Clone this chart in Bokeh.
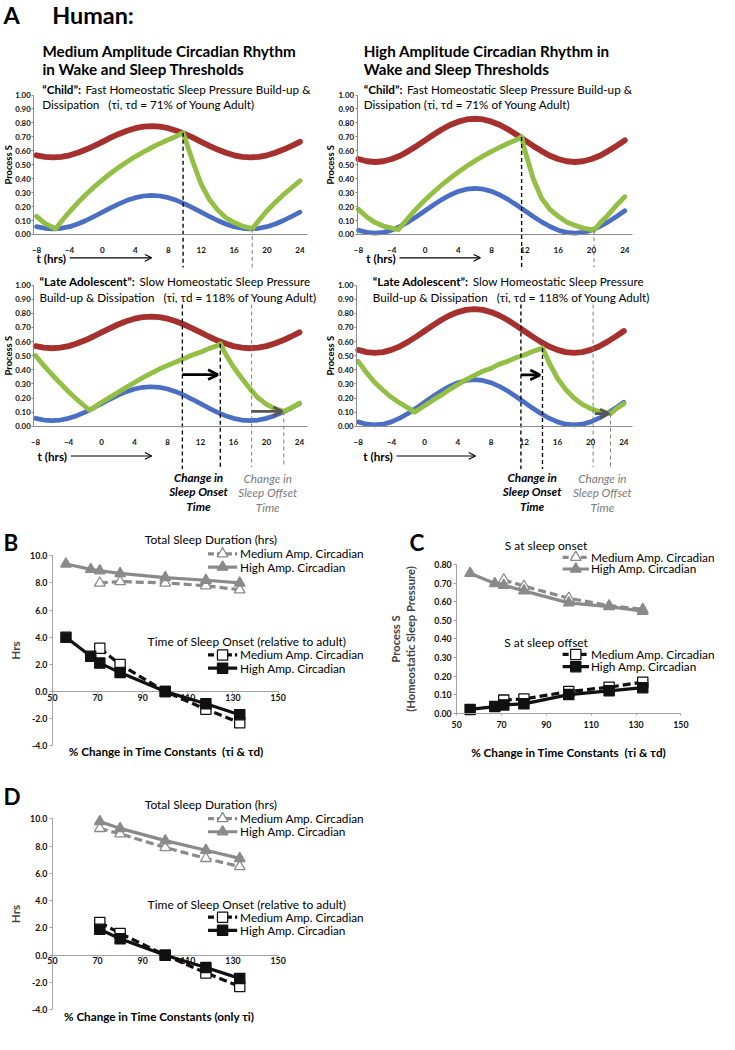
import math
from bokeh.plotting import figure
from bokeh.layouts import column, row
from bokeh.models import (Range1d, LinearAxis, FixedTicker, NumeralTickFormatter,
                          Arrow, OpenHead)
from bokeh.core.properties import value
from bokeh.embed import file_html
from bokeh.resources import INLINE

S = 0.975            # reference px -> screen px
FONT = "Lato"

# ============================ DATA : panel A ============================
T_HOURS = list(range(-8, 25))
A_XTICKS = [-8, -4, 0, 4, 8, 12, 16, 20, 24]
A_YTICKS = [0.0, 0.1, 0.2, 0.3, 0.4, 0.5, 0.6, 0.7, 0.8, 0.9, 1.0]

# wake (upper, red) and sleep (lower, blue) thresholds, read hourly
RED_MED = [0.568, 0.557, 0.553, 0.557, 0.568, 0.586, 0.609, 0.636, 0.665, 0.694, 0.721,
           0.744, 0.762, 0.773, 0.777, 0.773, 0.762, 0.744, 0.721, 0.694, 0.665, 0.636,
           0.609, 0.586, 0.568, 0.557, 0.553, 0.557, 0.568, 0.586, 0.609, 0.636, 0.665]
BLUE_MED = [0.056, 0.044, 0.040, 0.044, 0.056, 0.075, 0.100, 0.129, 0.160, 0.191, 0.220,
            0.245, 0.264, 0.276, 0.280, 0.276, 0.264, 0.245, 0.220, 0.191, 0.160, 0.129,
            0.100, 0.075, 0.056, 0.044, 0.040, 0.044, 0.056, 0.075, 0.100, 0.129, 0.160]
RED_HIGH = [0.541, 0.525, 0.520, 0.525, 0.541, 0.565, 0.598, 0.635, 0.675, 0.715, 0.753,
            0.785, 0.809, 0.825, 0.830, 0.825, 0.809, 0.785, 0.753, 0.715, 0.675, 0.635,
            0.598, 0.565, 0.541, 0.525, 0.520, 0.525, 0.541, 0.565, 0.598, 0.635, 0.675]
BLUE_HIGH = [0.031, 0.015, 0.010, 0.015, 0.031, 0.057, 0.090, 0.129, 0.170, 0.211, 0.250,
             0.283, 0.309, 0.325, 0.330, 0.325, 0.309, 0.283, 0.250, 0.211, 0.170, 0.129,
             0.090, 0.057, 0.031, 0.015, 0.010, 0.015, 0.031, 0.057, 0.090, 0.129, 0.170]

# Process S (green)
G_CHILD_MED_T = [-8, -7, -6, -5.7, -5, -4, -3, -2, -1, 0, 1, 2, 3, 4, 5, 6, 7, 8, 9, 9.8,
                 11, 12, 13, 14, 15, 16, 17, 18, 18.2, 19, 20, 21, 22, 23, 24]
G_CHILD_MED = [0.13, 0.08, 0.05, 0.04, 0.093, 0.163, 0.227, 0.287, 0.341, 0.392, 0.439,
               0.482, 0.522, 0.559, 0.593, 0.624, 0.653, 0.680, 0.705, 0.73,
               0.52, 0.36, 0.25, 0.175, 0.12, 0.085, 0.06, 0.045, 0.04,
               0.10, 0.17, 0.23, 0.285, 0.335, 0.385]
G_ADOL_MED_T = [-8, -7, -6, -5, -4, -3, -2, -1.5, -1, 0, 1, 2, 3, 4, 5, 6, 7, 8, 9, 10,
                11, 12, 13, 14, 14.4, 15, 16, 17, 18, 19, 20, 21, 22.1, 23, 24]
G_ADOL_MED = [0.50, 0.43, 0.365, 0.305, 0.245, 0.19, 0.14, 0.115, 0.13, 0.17, 0.205,
              0.24, 0.275, 0.31, 0.345, 0.375, 0.405, 0.43, 0.455, 0.48, 0.505, 0.525,
              0.55, 0.57, 0.585, 0.515, 0.42, 0.34, 0.265, 0.20, 0.155, 0.125, 0.105,
              0.13, 0.165]
G_CHILD_HIGH_T = [-8, -7, -6, -5, -4, -3.2, -3, -2, -1, 0, 1, 2, 3, 4, 5, 6, 7, 8, 9, 10,
                  11, 11.6, 12, 13, 14, 15, 16, 17, 18, 19, 20, 20.3, 21, 22, 23, 24]
G_CHILD_HIGH = [0.18, 0.125, 0.085, 0.06, 0.045, 0.035, 0.05, 0.12, 0.187, 0.247, 0.303,
                0.355, 0.403, 0.448, 0.489, 0.528, 0.563, 0.596, 0.626, 0.654, 0.68, 0.70,
                0.60, 0.40, 0.26, 0.18, 0.13, 0.09, 0.065, 0.045, 0.035, 0.03,
                0.08, 0.14, 0.21, 0.27]
G_ADOL_HIGH_T = [-8, -7, -6, -5, -4, -3, -2, -1.2, 0, 1, 2, 3, 4, 5, 6, 7, 8, 9, 10, 11,
                 12, 13, 14, 14.2, 15, 16, 17, 18, 19, 20, 21, 22, 22.4, 23, 24]
G_ADOL_HIGH = [0.46, 0.38, 0.31, 0.255, 0.205, 0.165, 0.13, 0.10, 0.145, 0.185, 0.22,
               0.26, 0.295, 0.33, 0.36, 0.39, 0.41, 0.44, 0.46, 0.485, 0.505, 0.53, 0.55,
               0.555, 0.45, 0.34, 0.26, 0.20, 0.155, 0.125, 0.105, 0.095, 0.09, 0.12, 0.16]

# sleep onset / offset times (h)
ONSET_CHILD_MED, OFFSET_CHILD_MED = 9.8, 18.2
ONSET_ADOL_MED, OFFSET_ADOL_MED = 14.4, 22.1
ONSET_CHILD_HIGH, OFFSET_CHILD_HIGH = 11.6, 20.3
ONSET_ADOL_HIGH, OFFSET_ADOL_HIGH = 14.2, 22.4

# ============================ DATA : panels B, C, D ============================
PCT_ALL = [56, 67, 71, 80, 100, 118, 133]
PCT_SUB = [71, 80, 100, 118, 133]
BD_XTICKS = [50, 70, 90, 110, 130, 150]
BD_YTICKS = [-4, -2, 0, 2, 4, 6, 8, 10]
C_YTICKS = [0.0, 0.1, 0.2, 0.3, 0.4, 0.5, 0.6, 0.7, 0.8]

B_TSD_MED = [8.0, 8.1, 8.0, 7.8, 7.5]
B_TSD_HIGH = [9.4, 9.0, 8.9, 8.7, 8.4, 8.2, 8.0]
B_ONSET_MED = [3.2, 2.0, 0.0, -1.3, -2.3]
B_ONSET_HIGH = [4.0, 2.6, 2.1, 1.4, 0.0, -0.9, -1.7]

C_SON_MED = [0.72, 0.685, 0.62, 0.58, 0.56]
C_SON_HIGH = [0.755, 0.70, 0.69, 0.66, 0.595, 0.575, 0.55]
C_SOFF_MED = [0.07, 0.076, 0.116, 0.14, 0.167]
C_SOFF_HIGH = [0.02, 0.035, 0.044, 0.05, 0.10, 0.12, 0.137]

D_TSD_MED = [9.3, 8.9, 7.9, 7.1, 6.5]
D_TSD_HIGH = [9.8, 9.3, 8.4, 7.7, 7.1]
D_ONSET_MED = [2.4, 1.6, 0.0, -1.3, -2.3]
D_ONSET_HIGH = [1.9, 1.2, 0.0, -0.9, -1.7]

# ============================ TEXT ============================
TXT_A = "A"
TXT_HUMAN = "Human:"
TITLE_MED = ["Medium Amplitude Circadian Rhythm", "in Wake and Sleep Thresholds"]
TITLE_HIGH = ["High Amplitude Circadian Rhythm in", "Wake and Sleep Thresholds"]
SUB_CHILD_BOLD = "\u201cChild\u201d:"
SUB_CHILD_REST = "Fast Homeostatic Sleep Pressure Build-up &"
SUB_CHILD_L2_MED = "Dissipation\u00a0\u00a0 (\u03c4i, \u03c4d = 71% of Young Adult)"
SUB_CHILD_L2_HIGH = "Dissipation (\u03c4i, \u03c4d = 71% of Young Adult)"
SUB_ADOL_BOLD = "\u201cLate Adolescent\u201d:"
SUB_ADOL_REST = "Slow Homeostatic Sleep Pressure"
SUB_ADOL_L2 = "Build-up & Dissipation\u00a0\u00a0 (\u03c4i, \u03c4d = 118% of Young Adult)"
A_YLABEL = "Process S"
T_LABEL = "t (hrs)"
ONSET_TXT = ["Change in", "Sleep Onset", "Time"]
OFFSET_TXT = ["Change in", "Sleep Offset", "Time"]
LEG_MED = "Medium Amp. Circadian"
LEG_HIGH = "High Amp. Circadian"
B_TITLE1 = "Total Sleep Duration (hrs)"
B_TITLE2 = "Time of Sleep Onset (relative to adult)"
C_TITLE1 = "S at sleep onset"
C_TITLE2 = "S at sleep offset"
HRS = "Hrs"
C_YLABEL = "Process S\n(Homeostatic Sleep Pressure)"
XLAB_BC = "% Change in Time Constants\u00a0 (\u03c4i & \u03c4d)"
XLAB_D = "% Change in Time Constants (only \u03c4i)"

# ============================ STYLE ============================
RED = "#a5302e"
BLUE = "#4a6ec3"
GREEN = "#93bf45"
AX_A = "#8c8c8c"
AX_B = "#a3a3a3"
GRAY = "#8a8a8a"
DARK = "#111111"
OFF_GRAY = "#7a7a7a"

SUB_FS = 12          # subtitle font size (ref px)
LEG_FS = 12.1
LEGT_FS = 12.3
XLAB_FS = 12


def make_panel(box, xmap, ymap):
    bx, by, bw, bh = box
    (xa, pa), (xb, pb) = xmap
    (ya, qa), (yb, qb) = ymap
    kx = (xb - xa) / (pb - pa)
    ky = (yb - ya) / (qb - qa)

    def X(fx):
        return xa + (fx - pa) * kx

    def Y(fy):
        return ya + (fy - qa) * ky

    p = figure(width=round(bw * S), height=round(bh * S),
               x_range=Range1d(X(bx), X(bx + bw)), y_range=Range1d(Y(by + bh), Y(by)),
               x_axis_type=None, y_axis_type=None, title=None,
               toolbar_location=None, output_backend="svg", min_border=0)
    p.outline_line_color = None
    p.background_fill_color = "white"
    p.border_fill_color = "white"
    return p, X, Y


def txt(p, x, y, s, size, bold=False, italic=False, color="black", align="left",
        font=FONT, baseline="middle", angle=0.0):
    if bold and italic:
        style = "bold italic"
    elif bold:
        style = "bold"
    elif italic:
        style = "italic"
    else:
        style = "normal"
    p.text(x=[x], y=[y], text=[s], text_font=value(font),
           text_font_size=f"{size * S:.2f}px", text_font_style=style,
           text_color=color, text_align=align, text_baseline=baseline, angle=angle)


def style_axis(ax, size, color, tick_out=2, standoff=2, bold=True):
    ax.axis_line_color = color
    ax.axis_line_width = 1
    ax.major_tick_line_color = color
    ax.major_tick_out = tick_out
    ax.major_tick_in = 0
    ax.minor_tick_line_color = None
    ax.major_label_text_font = FONT
    ax.major_label_text_font_size = f"{size * S:.2f}px"
    ax.major_label_text_font_style = "bold" if bold else "normal"
    ax.major_label_text_color = "#111111"
    ax.major_label_standoff = round(standoff * S)


def vdash(p, x, y0, y1, color, width, dash="4 3"):
    p.segment(x0=[x], y0=[y0], x1=[x], y1=[y1], line_color=color,
              line_width=width, line_dash=dash)


def arrow(p, x0, x1, y, color, width, head):
    p.add_layout(Arrow(end=OpenHead(size=head * S, line_width=width * S, line_color=color),
                       x_start=x0, y_start=y, x_end=x1, y_end=y,
                       line_width=width * S, line_color=color))


def a_panel(cfg):
    p, X, Y = make_panel(cfg["box"], cfg["xmap"], cfg["ymap"])
    p.line(T_HOURS, cfg["red"], line_color=RED, line_width=6 * S,
           line_join="round", line_cap="round")
    p.line(T_HOURS, cfg["blue"], line_color=BLUE, line_width=4.8 * S,
           line_join="round", line_cap="round")
    p.line(cfg["gt"], cfg["gv"], line_color=GREEN, line_width=5 * S,
           line_join="round", line_cap="round")

    x0 = X(cfg["yaxis_fx"])
    xa = LinearAxis(fixed_location=0, bounds=(x0, X(cfg["xend_fx"])),
                    ticker=FixedTicker(ticks=A_XTICKS))
    style_axis(xa, 8.3, AX_A, tick_out=0, standoff=13)
    p.add_layout(xa, "below")
    ya = LinearAxis(fixed_location=x0, bounds=(0, 1), ticker=FixedTicker(ticks=A_YTICKS),
                    formatter=NumeralTickFormatter(format="0.00"))
    style_axis(ya, 8.0, AX_A, tick_out=2, standoff=1)
    p.add_layout(ya, "left")
    # y-axis title, placed beside the tick labels
    txt(p, X(cfg["ylab_fx"]), 0.5, A_YLABEL, 9.6, bold=True, align="center",
        angle=math.pi / 2)

    bx, rx, fy1, fy2 = cfg["sub_pos"]
    txt(p, X(bx), Y(fy1), cfg["sub_bold"], SUB_FS, bold=True)
    txt(p, X(rx), Y(fy1), cfg["sub_rest"], SUB_FS)
    txt(p, X(bx), Y(fy2), cfg["sub_l2"], SUB_FS)

    tx, ax0, ax1, tfy = cfg["thrs"]
    txt(p, X(tx), Y(tfy), T_LABEL, 12, bold=True)
    arrow(p, X(ax0), X(ax1), Y(tfy), "black", 1.1, 7)
    return p, X, Y


# ---------------------------- A1: child, medium ----------------------------
a1, X, Y = a_panel(dict(box=(0, 0, 325, 278), xmap=((-8, 37), (24, 307)),
                        ymap=((0, 240), (1, 97)), red=RED_MED, blue=BLUE_MED,
                        gt=G_CHILD_MED_T, gv=G_CHILD_MED, yaxis_fx=34, xend_fx=315,
                        ylab_fx=8,
                        sub_bold=SUB_CHILD_BOLD, sub_rest=SUB_CHILD_REST,
                        sub_l2=SUB_CHILD_L2_MED, sub_pos=(42.7, 87.2, 90.5, 106.5),
                        thrs=(37, 71, 155, 264)))
txt(a1, X(3), Y(15), TXT_A, 24, bold=True)
txt(a1, X(53), Y(15), TXT_HUMAN, 24, bold=True)
txt(a1, X(43), Y(52), TITLE_MED[0], 15.6, bold=True)
txt(a1, X(43), Y(70), TITLE_MED[1], 15.6, bold=True)
g = dict(zip(G_CHILD_MED_T, G_CHILD_MED))
vdash(a1, ONSET_CHILD_MED, g[ONSET_CHILD_MED], Y(274), "black", 1.4 * S)
vdash(a1, OFFSET_CHILD_MED, g[OFFSET_CHILD_MED], Y(274), OFF_GRAY, 1.0 * S)

# ---------------------------- A2: child, high ----------------------------
a2, X, Y = a_panel(dict(box=(325, 0, 410, 278), xmap=((-8, 367), (24, 640)),
                        ymap=((0, 240), (1, 97)), red=RED_HIGH, blue=BLUE_HIGH,
                        gt=G_CHILD_HIGH_T, gv=G_CHILD_HIGH, yaxis_fx=365.5, xend_fx=648,
                        ylab_fx=338,
                        sub_bold=SUB_CHILD_BOLD, sub_rest=SUB_CHILD_REST,
                        sub_l2=SUB_CHILD_L2_HIGH, sub_pos=(372.3, 416.8, 90.5, 106.5),
                        thrs=(375, 409, 492, 264)))
txt(a2, X(372.3), Y(52), TITLE_HIGH[0], 15.6, bold=True)
txt(a2, X(372.3), Y(70), TITLE_HIGH[1], 15.6, bold=True)
g = dict(zip(G_CHILD_HIGH_T, G_CHILD_HIGH))
vdash(a2, ONSET_CHILD_HIGH, g[ONSET_CHILD_HIGH], Y(274), "black", 1.4 * S)
vdash(a2, OFFSET_CHILD_HIGH, g[OFFSET_CHILD_HIGH], Y(274), OFF_GRAY, 1.0 * S)

# ---------------------------- A3: late adolescent, medium ----------------------------
a3, X, Y = a_panel(dict(box=(0, 278, 325, 262), xmap=((-8, 36), (24, 306.5)),
                        ymap=((0, 437), (1, 292)), red=RED_MED, blue=BLUE_MED,
                        gt=G_ADOL_MED_T, gv=G_ADOL_MED, yaxis_fx=34, xend_fx=315,
                        ylab_fx=8,
                        sub_bold=SUB_ADOL_BOLD, sub_rest=SUB_ADOL_REST,
                        sub_l2=SUB_ADOL_L2, sub_pos=(40, 142.5, 288, 304),
                        thrs=(38, 72, 155, 467.5)))
g = dict(zip(G_ADOL_MED_T, G_ADOL_MED))
vdash(a3, ONSET_CHILD_MED, Y(312), Y(481), "black", 1.4 * S)
vdash(a3, ONSET_ADOL_MED, g[ONSET_ADOL_MED], Y(481), "black", 1.4 * S)
vdash(a3, OFFSET_CHILD_MED, Y(312), Y(479), OFF_GRAY, 1.0 * S)
vdash(a3, OFFSET_ADOL_MED, g[OFFSET_ADOL_MED], Y(479), OFF_GRAY, 1.0 * S)
arrow(a3, ONSET_CHILD_MED, ONSET_ADOL_MED - 0.3, Y(384), "black", 2.8, 10)
arrow(a3, OFFSET_CHILD_MED, OFFSET_ADOL_MED - 0.2, Y(421.7), "#555555", 2.8, 9)
for i, fy in enumerate([489, 504, 519]):
    txt(a3, X(203), Y(fy), ONSET_TXT[i], 12, bold=True, italic=True, align="center")
    txt(a3, X(274), Y(fy + 1), OFFSET_TXT[i], 12, italic=True, align="center",
        color=OFF_GRAY)

# ---------------------------- A4: late adolescent, high ----------------------------
a4, X, Y = a_panel(dict(box=(325, 278, 410, 262), xmap=((-8, 366.7), (24, 639)),
                        ymap=((0, 437), (1, 292)), red=RED_HIGH, blue=BLUE_HIGH,
                        gt=G_ADOL_HIGH_T, gv=G_ADOL_HIGH, yaxis_fx=365, xend_fx=648,
                        ylab_fx=338,
                        sub_bold=SUB_ADOL_BOLD, sub_rest=SUB_ADOL_REST,
                        sub_l2=SUB_ADOL_L2, sub_pos=(381.7, 484.2, 288, 304),
                        thrs=(372, 406, 487, 467.5)))
g = dict(zip(G_ADOL_HIGH_T, G_ADOL_HIGH))
vdash(a4, ONSET_CHILD_HIGH, Y(312), Y(481), "black", 1.4 * S)
vdash(a4, ONSET_ADOL_HIGH, g[ONSET_ADOL_HIGH], Y(481), "black", 1.4 * S)
vdash(a4, OFFSET_CHILD_HIGH, Y(312), Y(479), OFF_GRAY, 1.0 * S)
vdash(a4, OFFSET_ADOL_HIGH, g[OFFSET_ADOL_HIGH], Y(479), OFF_GRAY, 1.0 * S)
arrow(a4, ONSET_CHILD_HIGH, ONSET_ADOL_HIGH - 0.3, Y(384.3), "black", 2.8, 10)
arrow(a4, OFFSET_CHILD_HIGH + 0.2, OFFSET_ADOL_HIGH - 0.2, Y(424), "#555555", 2.8, 9)
for i, fy in enumerate([489, 504, 519]):
    txt(a4, X(545), Y(fy), ONSET_TXT[i], 12, bold=True, italic=True, align="center")
    txt(a4, X(617), Y(fy + 1), OFFSET_TXT[i], 12, italic=True, align="center",
        color=OFF_GRAY)


# ============================ B, C, D ============================
def series(p, x, y, color, dash, marker, filled, msize):
    p.line(x, y, line_color=color, line_width=3.3 * S, line_dash=dash, line_join="round")
    p.scatter(x, y, marker=marker, size=msize * S,
              fill_color=color if filled else "white", line_color=color,
              line_width=1.3 * S)


def legend_block(p, X, Y, title, title_cx, title_fy, sw, text_fx, rows, entries):
    txt(p, X(title_cx), Y(title_fy), title, LEGT_FS, align="center")
    for fy, (label, color, dash, marker, filled, msize) in zip(rows, entries):
        p.line([X(sw[0]), X(sw[1])], [Y(fy), Y(fy)], line_color=color,
               line_width=3.3 * S, line_dash=dash)
        p.scatter([X((sw[0] + sw[1]) / 2)], [Y(fy)], marker=marker, size=msize * S,
                  fill_color=color if filled else "white", line_color=color,
                  line_width=1.3 * S)
        txt(p, X(text_fx), Y(fy), label, LEG_FS)


def bd_axes(p, ylabel):
    ya = LinearAxis(fixed_location=50, bounds=(-4, 10), ticker=FixedTicker(ticks=BD_YTICKS),
                    formatter=NumeralTickFormatter(format="0.0"), axis_label=ylabel)
    style_axis(ya, 9, AX_B, tick_out=3, standoff=2)
    ya.axis_label_text_font = FONT
    ya.axis_label_text_font_size = f"{12 * S:.2f}px"
    ya.axis_label_text_font_style = "bold"
    ya.axis_label_standoff = 5
    p.add_layout(ya, "left")
    xa = LinearAxis(fixed_location=0, bounds=(50, 150), ticker=FixedTicker(ticks=BD_XTICKS))
    style_axis(xa, 9, AX_B, tick_out=2, standoff=0)
    xa.level = "underlay"
    p.add_layout(xa, "below")


TRI_M = ("triangle", 11)
SQ_M = ("square", 10.5)

# ---------------------------- B ----------------------------
b, X, Y = make_panel((0, 540, 385, 260), ((50, 53.3), (150, 285)), ((0, 709), (10, 570)))
bd_axes(b, HRS)
series(b, PCT_SUB, B_TSD_MED, GRAY, "8 4", TRI_M[0], False, TRI_M[1])
series(b, PCT_ALL, B_TSD_HIGH, GRAY, "solid", TRI_M[0], True, TRI_M[1])
series(b, PCT_SUB, B_ONSET_MED, DARK, "8 4", SQ_M[0], False, SQ_M[1])
series(b, PCT_ALL, B_ONSET_HIGH, DARK, "solid", SQ_M[0], True, SQ_M[1])
txt(b, X(3), Y(556), "B", 23, bold=True)
legend_block(b, X, Y, B_TITLE1, 216, 553, (213, 243), 246, [568, 581.5],
             [(LEG_MED, GRAY, "6 3", TRI_M[0], False, TRI_M[1]),
              (LEG_HIGH, GRAY, "solid", TRI_M[0], True, TRI_M[1])])
legend_block(b, X, Y, B_TITLE2, 253, 658, (213, 243), 246, [671.5, 685],
             [(LEG_MED, DARK, "6 3", SQ_M[0], False, SQ_M[1]),
              (LEG_HIGH, DARK, "solid", SQ_M[0], True, SQ_M[1])])
txt(b, X(170), Y(770), XLAB_BC, XLAB_FS, bold=True, align="center")

# ---------------------------- C ----------------------------
c, X, Y = make_panel((385, 540, 355, 260), ((50, 468.3), (150, 698.3)),
                     ((0, 731), (0.8, 579.3)))
ya = LinearAxis(fixed_location=50, bounds=(0, 0.8), ticker=FixedTicker(ticks=C_YTICKS),
                formatter=NumeralTickFormatter(format="0.00"), axis_label=C_YLABEL)
style_axis(ya, 9, AX_B, tick_out=3, standoff=2)
ya.axis_label_text_font = FONT
ya.axis_label_text_font_size = f"{11.5 * S:.2f}px"
ya.axis_label_text_font_style = "bold"
ya.axis_label_standoff = 14
c.add_layout(ya, "left")
xa = LinearAxis(fixed_location=0, bounds=(50, 150), ticker=FixedTicker(ticks=BD_XTICKS))
style_axis(xa, 9, AX_B, tick_out=2, standoff=6)
c.add_layout(xa, "below")
series(c, PCT_SUB, C_SON_MED, GRAY, "8 4", TRI_M[0], False, TRI_M[1])
series(c, PCT_ALL, C_SON_HIGH, GRAY, "solid", TRI_M[0], True, TRI_M[1])
series(c, PCT_SUB, C_SOFF_MED, DARK, "8 4", SQ_M[0], False, SQ_M[1])
series(c, PCT_ALL, C_SOFF_HIGH, DARK, "solid", SQ_M[0], True, SQ_M[1])
txt(c, X(420), Y(556), "C", 23, bold=True)
legend_block(c, X, Y, C_TITLE1, 560, 559, (577, 604), 606, [571.5, 583.5],
             [(LEG_MED, GRAY, "6 3", TRI_M[0], False, TRI_M[1]),
              (LEG_HIGH, GRAY, "solid", TRI_M[0], True, TRI_M[1])])
legend_block(c, X, Y, C_TITLE2, 560, 658.3, (577, 604), 606, [671, 683.5],
             [(LEG_MED, DARK, "6 3", SQ_M[0], False, SQ_M[1]),
              (LEG_HIGH, DARK, "solid", SQ_M[0], True, SQ_M[1])])
txt(c, X(583), Y(771), XLAB_BC, XLAB_FS, bold=True, align="center")

# ---------------------------- D ----------------------------
d, X, Y = make_panel((0, 800, 385, 250), ((50, 53.3), (150, 285)), ((0, 979), (10, 839.3)))
bd_axes(d, HRS)
series(d, PCT_SUB, D_TSD_MED, GRAY, "8 4", TRI_M[0], False, TRI_M[1])
series(d, PCT_SUB, D_TSD_HIGH, GRAY, "solid", TRI_M[0], True, TRI_M[1])
series(d, PCT_SUB, D_ONSET_MED, DARK, "8 4", SQ_M[0], False, SQ_M[1])
series(d, PCT_SUB, D_ONSET_HIGH, DARK, "solid", SQ_M[0], True, SQ_M[1])
txt(d, X(3), Y(816), "D", 23, bold=True)
legend_block(d, X, Y, B_TITLE1, 216, 825, (213, 243), 246, [839, 852.5],
             [(LEG_MED, GRAY, "6 3", TRI_M[0], False, TRI_M[1]),
              (LEG_HIGH, GRAY, "solid", TRI_M[0], True, TRI_M[1])])
legend_block(d, X, Y, B_TITLE2, 253, 927, (213, 243), 246, [940, 953.5],
             [(LEG_MED, DARK, "6 3", SQ_M[0], False, SQ_M[1]),
              (LEG_HIGH, DARK, "solid", SQ_M[0], True, SQ_M[1])])
txt(d, X(163), Y(1041), XLAB_D, XLAB_FS, bold=True, align="center")

layout = column(row(a1, a2), row(a3, a4), row(b, c), row(d))
open("out.html", "w").write(file_html(layout, INLINE))
